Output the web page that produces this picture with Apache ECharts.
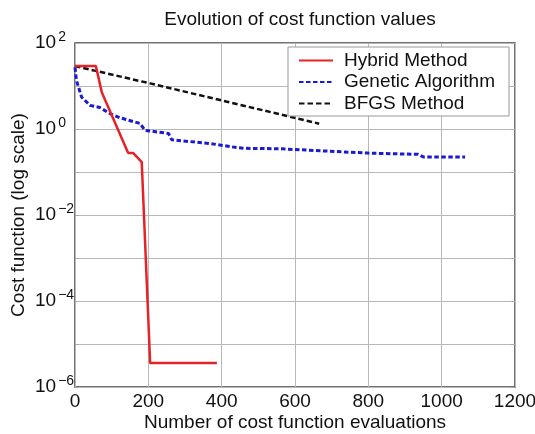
<!DOCTYPE html>
<html>
<head>
<meta charset="utf-8">
<script src="https://cdn.jsdelivr.net/npm/echarts@6/dist/echarts.min.js"></script>
<style>html,body{margin:0;padding:0;background:#fff}#c{width:535px;height:434px}</style>
</head>
<body>
<div id="c"></div>
<script>
// ---- data ----
const hybridX = [0, 57, 73, 145, 159, 182, 205, 387];
const hybridY = [29, 29, 7.2, 0.275, 0.275, 0.17, 3.6e-6, 3.6e-6];

const gaX = [0, 4, 18, 41, 68, 95, 123, 177, 191, 255, 264, 368, 441, 464, 559, 800, 936, 950, 1064];
const gaY = [27, 13.5, 5.5, 3.55, 3.16, 2.29, 1.82, 1.35, 0.93, 0.79, 0.56, 0.46, 0.37, 0.355, 0.347, 0.275, 0.257, 0.224, 0.224];

const bfgsX = [0, 205, 666];
const bfgsY = [29, 11.5, 1.33];

const xTicks = [0, 200, 400, 600, 800, 1000, 1200];
const yTickExponents = [-6, -4, -2, 0, 2];

const seriesNames = ['Hybrid Method', 'Genetic Algorithm', 'BFGS Method'];

function pairs(xs, ys) { return xs.map((x, i) => [x, ys[i]]); }

const FONT = 'Liberation Sans';
const chart = echarts.init(document.getElementById('c'), null, { renderer: 'canvas' });

const yAxisCommon = {
  type: 'log', logBase: 10, min: 1e-6, max: 100, splitNumber: 8,
  axisLine: { show: false },
  axisTick: { show: true, inside: true, length: 4, lineStyle: { color: '#aaa', width: 1 } },
  splitLine: { show: false }
};

chart.setOption({
  animation: false,
  backgroundColor: '#fff',
  textStyle: { fontFamily: FONT },
  title: {
    text: 'Evolution of cost function values',
    left: 295, top: 5, textAlign: 'center',
    textStyle: { fontFamily: FONT, fontSize: 19, fontWeight: 'normal', color: '#111' }
  },
  grid: {
    left: 75, right: 20, top: 43, bottom: 47, containLabel: false, outerBoundsMode: 'none',
    show: true, borderColor: '#444', borderWidth: 1.5, backgroundColor: '#fff'
  },
  legend: {
    data: seriesNames,
    orient: 'vertical', left: 288, top: 47,
    padding: [3, 14, 2, 10],
    itemWidth: 34, itemHeight: 14, itemGap: 0.5,
    itemStyle: { opacity: 0 },
    backgroundColor: '#fff', borderColor: '#999', borderWidth: 1,
    textStyle: { fontFamily: FONT, fontSize: 19, color: '#111', lineHeight: 21, padding: [0, 0, 0, 6] }
  },
  xAxis: {
    type: 'value', min: xTicks[0], max: xTicks[xTicks.length - 1], interval: 200,
    axisLine: { show: false }, axisTick: { show: false },
    splitLine: { show: true, lineStyle: { color: '#b8b8b8', width: 1 } },
    axisLabel: { fontFamily: FONT, fontSize: 19, color: '#111', margin: 5,
      formatter: v => xTicks.includes(v) ? String(v) : '' },
    name: 'Number of cost function evaluations', nameLocation: 'middle', nameGap: 26,
    nameMoveOverlap: false,
    nameTextStyle: { fontFamily: FONT, fontSize: 19, color: '#111' }
  },
  yAxis: [
    Object.assign({}, yAxisCommon, {
      position: 'left',
      splitLine: { show: true, interval: 1, lineStyle: { color: '#b8b8b8', width: 1 } },
      axisLabel: {
        show: true, interval: 1, align: 'left', margin: 40,
        formatter: function (v) {
          const e = Math.round(Math.log10(v));
          if (!yTickExponents.includes(e)) return '';
          return '{b|10}{s|' + (e < 0 ? '\u2212' + (-e) : e) + '}';
        },
        rich: {
          b: { fontFamily: FONT, fontSize: 19, color: '#111', lineHeight: 26, verticalAlign: 'middle' },
          s: { fontFamily: FONT, fontSize: 14, color: '#111', lineHeight: 14, verticalAlign: 'top', padding: [0, 0, 0, 2] }
        }
      },
      name: 'Cost function (log scale)', nameLocation: 'middle', nameGap: 47,
      nameMoveOverlap: false,
      nameTextStyle: { fontFamily: FONT, fontSize: 19, color: '#111' }
    }),
    Object.assign({}, yAxisCommon, {
      position: 'right',
      axisLabel: { show: false }
    })
  ],
  series: [
    { name: seriesNames[0], type: 'line', data: pairs(hybridX, hybridY), symbol: 'none', z: 4,
      lineStyle: { color: '#e52228', width: 2.5 }, itemStyle: { color: '#e52228' } },
    { name: seriesNames[1], type: 'line', data: pairs(gaX, gaY), symbol: 'none', z: 3,
      lineStyle: { color: '#1a1ad6', width: 3, type: [4.5, 2.5] }, itemStyle: { color: '#1a1ad6' } },
    { name: seriesNames[2], type: 'line', data: pairs(bfgsX, bfgsY), symbol: 'none', z: 2,
      lineStyle: { color: '#111', width: 2.5, type: [5.5, 3] }, itemStyle: { color: '#111' } }
  ]
});
</script>
</body>
</html>
